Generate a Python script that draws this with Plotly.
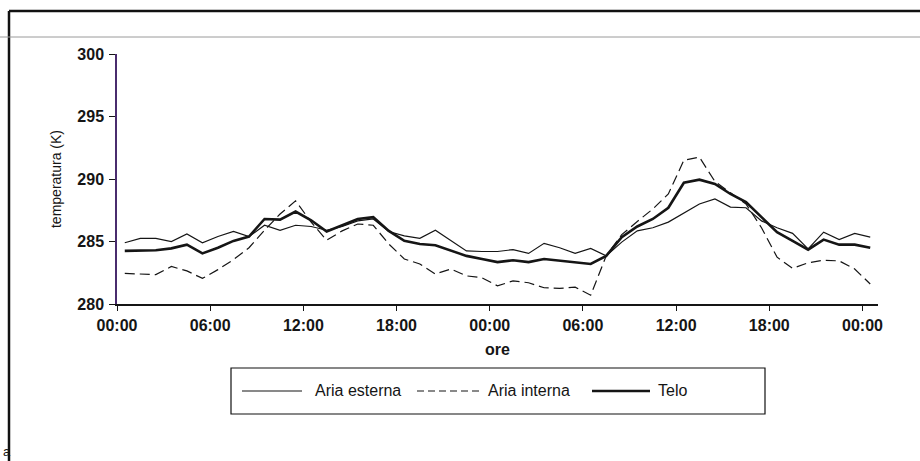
import numpy as np
import plotly.graph_objects as go

# Hourly temperatures (K) over two days, one value per hour
aria_esterna = [
    284.9, 285.25, 285.25, 285.0, 285.6, 284.9, 285.4, 285.8, 285.4, 286.3,
    285.9, 286.3, 286.2, 285.9, 286.2, 286.65, 286.8, 285.8, 285.45, 285.25,
    285.9, 285.05, 284.25, 284.2, 284.2, 284.35, 284.05, 284.85, 284.5, 284.05,
    284.45, 283.85, 284.95, 285.85, 286.1, 286.55, 287.3, 288.0, 288.4, 287.75,
    287.7, 286.65, 286.1, 285.65, 284.4, 285.75, 285.15, 285.65, 285.35,
]
aria_interna = [
    282.45, 282.4, 282.35, 283.0, 282.65, 282.05, 282.75, 283.55, 284.5, 285.9,
    287.2, 288.25, 286.55, 285.1, 285.85, 286.4, 286.3, 284.8, 283.6, 283.2,
    282.4, 282.8, 282.25, 282.1, 281.45, 281.85, 281.7, 281.3, 281.25, 281.35,
    280.7, 283.85, 285.55, 286.6, 287.6, 288.8, 291.5, 291.75, 289.8, 288.9,
    288.0, 286.1, 283.75, 282.85, 283.3, 283.5, 283.45, 282.8, 281.6,
]
telo = [
    284.25, 284.3, 284.3, 284.45, 284.75, 284.05, 284.5, 285.05, 285.4, 286.8,
    286.75, 287.4, 286.7, 285.8, 286.3, 286.8, 286.95, 285.85, 285.05, 284.8,
    284.7, 284.25, 283.85, 283.6, 283.35, 283.5, 283.35, 283.6, 283.45, 283.3,
    283.2, 283.85, 285.35, 286.2, 286.8, 287.7, 289.7, 289.95, 289.6, 288.8,
    288.15, 286.95, 285.75, 285.05, 284.35, 285.15, 284.75, 284.75, 284.5,
]

# Each reading sits in the middle of its hour slot
ore = np.arange(len(telo)) + 0.5

tick_ore = [0, 6, 12, 18, 24, 30, 36, 42, 48]
tick_labels = ["00:00", "06:00", "12:00", "18:00", "00:00",
               "06:00", "12:00", "18:00", "00:00"]
y_ticks = [280, 285, 290, 295, 300]

W, H = 920, 461
ML, MR, MT, MB = 117, 42, 54, 157
PW, PH = W - ML - MR, H - MT - MB


def px(x):
    return (x - ML) / PW


def py(y):
    return (H - MB - y) / PH


FONT = "Arial, Liberation Sans, sans-serif"
INK = "#151515"

fig = go.Figure()
fig.add_trace(go.Scatter(x=ore, y=aria_esterna, mode="lines", name="Aria esterna",
                         line=dict(color=INK, width=1.2)))
fig.add_trace(go.Scatter(x=ore, y=aria_interna, mode="lines", name="Aria interna",
                         line=dict(color=INK, width=1.2, dash="10px,5px")))
fig.add_trace(go.Scatter(x=ore, y=telo, mode="lines", name="Telo",
                         line=dict(color=INK, width=2.6)))

shapes = [
    # outer page frame and ruling
    dict(type="line", xref="paper", yref="paper", x0=px(9), x1=px(920), y0=py(11), y1=py(11),
         line=dict(color="#111", width=2.5)),
    dict(type="line", xref="paper", yref="paper", x0=px(9), x1=px(9), y0=py(11), y1=py(461),
         line=dict(color="#111", width=2.5)),
    dict(type="line", xref="paper", yref="paper", x0=px(0), x1=px(920), y0=py(37), y1=py(37),
         line=dict(color="#9a9a9a", width=1)),
    # legend box
    dict(type="rect", xref="paper", yref="paper", x0=px(231), x1=px(765), y0=py(368), y1=py(414),
         line=dict(color="#111", width=1.2), fillcolor="rgba(0,0,0,0)"),
    # legend samples
    dict(type="line", xref="paper", yref="paper", x0=px(242), x1=px(302), y0=py(391), y1=py(391),
         line=dict(color=INK, width=1.2)),
    dict(type="line", xref="paper", yref="paper", x0=px(417), x1=px(480), y0=py(391), y1=py(391),
         line=dict(color=INK, width=1.2, dash="7px,4px")),
    dict(type="line", xref="paper", yref="paper", x0=px(592), x1=px(650), y0=py(391), y1=py(391),
         line=dict(color=INK, width=2.6)),
]

annotations = [
    dict(text="Aria esterna", x=px(313), y=py(391), xanchor="left", yanchor="middle"),
    dict(text="Aria interna", x=px(486), y=py(391), xanchor="left", yanchor="middle"),
    dict(text="Telo", x=px(656), y=py(391), xanchor="left", yanchor="middle"),
]
for a in annotations:
    a.update(xref="paper", yref="paper", showarrow=False,
             font=dict(family=FONT, size=16, color=INK))
annotations.append(dict(text="a", x=px(1), y=py(451), xref="paper", yref="paper",
                        xanchor="left", yanchor="middle", showarrow=False,
                        font=dict(family=FONT, size=13, color=INK)))

fig.update_layout(
    width=W, height=H,
    margin=dict(l=ML, r=MR, t=MT, b=MB),
    paper_bgcolor="white", plot_bgcolor="white",
    showlegend=False,
    shapes=shapes,
    annotations=annotations,
    xaxis=dict(
        range=[0, 49], tickmode="array", tickvals=tick_ore, ticktext=tick_labels,
        showgrid=False, zeroline=False,
        showline=True, linecolor=INK, linewidth=1.5,
        ticks="outside", ticklen=5, tickwidth=1.3, tickcolor=INK,
        ticklabelstandoff=1,
        tickfont=dict(family=FONT, size=16, color=INK, weight="bold"),
        title=dict(text="ore", standoff=11,
                   font=dict(family=FONT, size=16, color=INK, weight="bold")),
    ),
    yaxis=dict(
        range=[280, 300], tickmode="array", tickvals=y_ticks,
        showgrid=False, zeroline=False,
        showline=True, linecolor="#4a2c6e", linewidth=1.5,
        ticks="outside", ticklen=6, tickwidth=1.3, tickcolor=INK,
        ticklabelstandoff=2,
        tickfont=dict(family=FONT, size=16, color=INK, weight="bold"),
        title=dict(text="temperatura (K)", standoff=12,
                   font=dict(family=FONT, size=14, color=INK)),
    ),
)

fig.write_html("out.html")
